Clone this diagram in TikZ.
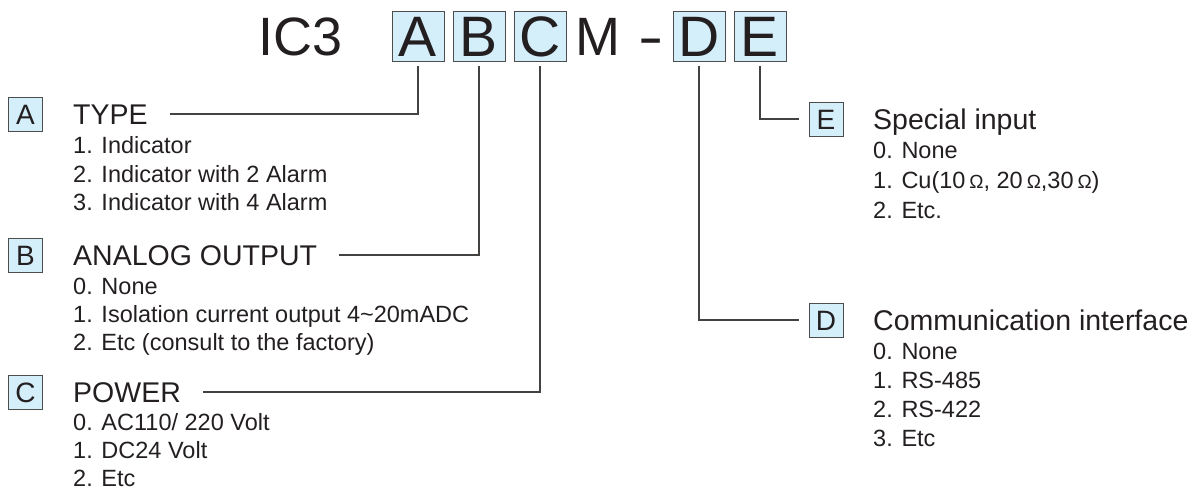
\documentclass[tikz,border=0pt]{standalone}
\usepackage{fontspec}
\setmainfont{Liberation Sans}
\definecolor{keyfill}{HTML}{D4EEFA}
\definecolor{keyline}{HTML}{4D4D4D}
\definecolor{ink}{HTML}{231F20}
\newcommand{\ohm}{\,{\fontsize{19}{20}\selectfont Ω}}

\begin{document}
\begin{tikzpicture}[x=1pt,y=-1pt,
	every node/.style={text=ink, inner sep=0pt},
	code/.style={font=\fontsize{54}{54}\selectfont, text height=39pt, text depth=0pt},
	keybox/.style={code, font=\fontsize{57}{57}\selectfont, text height=41pt, draw=keyline, fill=keyfill, line width=1pt, minimum width=52pt, minimum height=50pt},
	tag/.style={draw=keyline, fill=keyfill, line width=0.9pt, minimum width=34pt, minimum height=34pt, font=\fontsize{28}{28}\selectfont, text height=20pt, text depth=0pt},
	head/.style={anchor=west, font=\fontsize{28.5}{30}\selectfont, text height=20.5pt, text depth=0pt},
	item/.style={anchor=west, font=\fontsize{23.5}{25}\selectfont, text height=17pt, text depth=0pt},
	lead/.style={draw=ink!85, line width=1.2pt}]
	\useasboundingbox (0,0) rectangle (1202,490);

	\node (ic)  at (343, 36)	[code, anchor=east]	{IC3};
	\node (bA)  at (418, 36)	[keybox]	{A};
	\node (bB)  at (479, 36)	[keybox]	{B};
	\node (bC)  at (540, 36)	[keybox]	{C};
	\node (m)   at (598, 36)	[code]	{M};
	\node (dsh) at (651, 36)	[code]	{\scalebox{1.4}[1]{-}};
	\node (bD)  at (699, 36)	[keybox]	{D};
	\node (bE)  at (760, 36)	[keybox]	{E};

	\node (kA) at (25.5, 114)	[tag]	{A};
	\node (hA) at (73, 114)	[head]	{TYPE};
	\node (a1) at (73, 145)	[item]	{1. Indicator};
	\node (a2) at (73, 174)	[item]	{2. Indicator with 2 Alarm};
	\node (a3) at (73, 202)	[item]	{3. Indicator with 4 Alarm};

	\node (kB) at (25.5, 255)	[tag]	{B};
	\node (hB) at (73, 255)	[head]	{ANALOG OUTPUT};
	\node (b0) at (73, 286)	[item]	{0. None};
	\node (b1) at (73, 314)	[item]	{1. Isolation current output 4\textasciitilde20mADC};
	\node (b2) at (73, 342)	[item]	{2. Etc (consult to the factory)};

	\node (kC) at (25.5, 392)	[tag]	{C};
	\node (hC) at (73, 392)	[head]	{POWER};
	\node (c0) at (73, 422)	[item]	{0. AC110/ 220 Volt};
	\node (c1) at (73, 450)	[item]	{1. DC24 Volt};
	\node (c2) at (73, 478)	[item]	{2. Etc};

	\node (kE) at (826, 119)	[tag]	{E};
	\node (hE) at (873, 119)	[head]	{Special input};
	\node (e0) at (873, 150)	[item]	{0. None};
	\node (e1) at (873, 180)	[item]	{1. Cu(10\ohm, 20\ohm,30\ohm)};
	\node (e2) at (873, 210)	[item]	{2. Etc.};

	\node (kD) at (826, 320)	[tag]	{D};
	\node (hD) at (873, 320)	[head]	{Communication interface};
	\node (d0) at (873, 351)	[item]	{0. None};
	\node (d1) at (873, 380)	[item]	{1. RS-485};
	\node (d2) at (873, 409)	[item]	{2. RS-422};
	\node (d3) at (873, 438)	[item]	{3. Etc};

	\draw[lead] ([yshift=-4pt]bA.south) |- ([xshift=22pt]hA.east);
	\draw[lead] ([yshift=-4pt]bB.south) |- ([xshift=22pt]hB.east);
	\draw[lead] ([yshift=-4pt]bC.south) |- ([xshift=22pt]hC.east);
	\draw[lead] ([yshift=-4pt]bD.south) |- ([xshift=-10pt]kD.west);
	\draw[lead] ([yshift=-4pt]bE.south) |- ([xshift=-10pt]kE.west);
\end{tikzpicture}
\end{document}
